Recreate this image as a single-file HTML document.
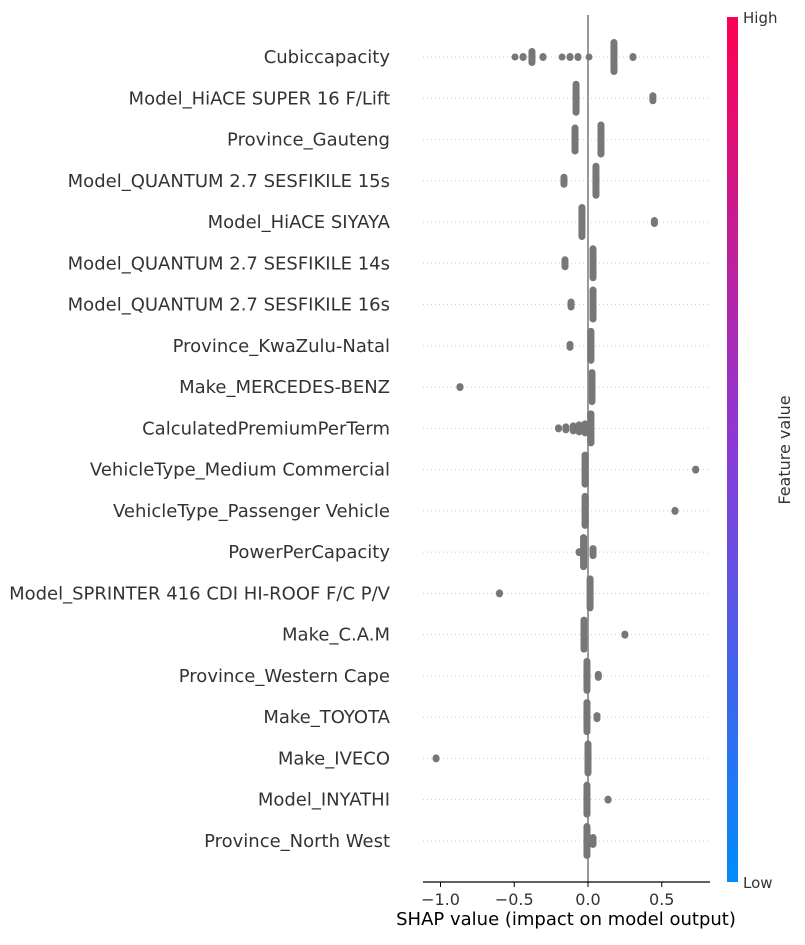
<!DOCTYPE html>
<html><head><meta charset="utf-8"><style>
body{margin:0;background:#fff;}
svg text{font-family:"DejaVu Sans","Liberation Sans",sans-serif;}
</style></head><body>
<svg width="805" height="940" xmlns="http://www.w3.org/2000/svg" id="chart">
<defs><linearGradient id="cb" x1="0" y1="1" x2="0" y2="0">
<stop offset="0" stop-color="#008bfb"/><stop offset="0.5" stop-color="#8a3ad8"/><stop offset="1" stop-color="#ff0052"/></linearGradient></defs>
<g id="grid"></g>
<line x1="588" y1="15" x2="588" y2="882" stroke="#999" stroke-width="2"/>
<g id="marks"></g>
<g id="labels"></g>
<line x1="423" y1="882" x2="710" y2="882" stroke="#000" stroke-width="1.2"/>
<g id="ticks"></g>
<text x="566" y="925" font-size="18" text-anchor="middle" fill="#000">SHAP value (impact on model output)</text>
<rect x="727" y="17" width="11" height="865" fill="url(#cb)"/>
<text x="743" y="23" font-size="15" fill="#333">High</text>
<text x="743" y="888" font-size="15" fill="#333">Low</text>
<text x="790" y="450" font-size="16" fill="#333" text-anchor="middle" transform="rotate(-90 790 450)">Feature value</text>
</svg>
<script>
const features=["Cubiccapacity","Model_HiACE SUPER 16 F/Lift","Province_Gauteng","Model_QUANTUM 2.7 SESFIKILE 15s","Model_HiACE SIYAYA","Model_QUANTUM 2.7 SESFIKILE 14s","Model_QUANTUM 2.7 SESFIKILE 16s","Province_KwaZulu-Natal","Make_MERCEDES-BENZ","CalculatedPremiumPerTerm","VehicleType_Medium Commercial","VehicleType_Passenger Vehicle","PowerPerCapacity","Model_SPRINTER 416 CDI HI-ROOF F/C P/V","Make_C.A.M","Province_Western Cape","Make_TOYOTA","Make_IVECO","Model_INYATHI","Province_North West"];
// clusters per row: [shap value, spread]
const clusters=[
[[-0.495,7],[-0.44,8],[-0.38,18],[-0.305,8],[-0.176,7],[-0.122,8],[-0.068,8],[0.007,7],[0.176,36],[0.305,8]],
[[-0.081,35],[0.44,12]],
[[-0.088,30],[0.088,36]],
[[-0.163,14],[0.054,36]],
[[-0.041,36],[0.45,10]],
[[-0.156,14],[0.034,36]],
[[-0.115,12],[0.034,36]],
[[-0.122,10],[0.02,36]],
[[-0.868,8],[0.027,36]],
[[-0.2,8],[-0.15,10],[-0.1,12],[-0.06,14],[-0.02,16],[0.02,36]],
[[-0.02,36],[0.73,8]],
[[-0.02,36],[0.59,8]],
[[-0.03,36],[0.034,14],[-0.06,8]],
[[-0.6,8],[0.014,36]],
[[-0.027,36],[0.25,8]],
[[-0.007,36],[0.07,10]],
[[-0.007,36],[0.061,10]],
[[-1.03,8],[0.0,36]],
[[-0.007,36],[0.136,8]],
[[-0.007,36],[0.034,14]]];
const tickVals=[-1.0,-0.5,0.0,0.5];
const tickLabels=["\u22121.0","\u22120.5","0.0","0.5"];
const NS="http://www.w3.org/2000/svg";
const xs=v=>588+v*147.5;
const ys=i=>57+i*41.26;
function mk(t,a,p){const e=document.createElementNS(NS,t);for(const k in a)e.setAttribute(k,a[k]);p.appendChild(e);return e;}
const grid=document.getElementById('grid'),marks=document.getElementById('marks'),labels=document.getElementById('labels'),ticks=document.getElementById('ticks');
features.forEach((f,i)=>{
  const y=ys(i);
  const g=mk('line',{x1:423,x2:708,y1:y,y2:y,stroke:'#ccc','stroke-width':1,'stroke-dasharray':'1 3'},grid);
  
  
  const t=mk('text',{x:390,y:y+6,'font-size':18,'text-anchor':'end',fill:'#333'},labels);
  t.textContent=f;
  
  
  clusters[i].forEach(c=>{
    const h=Math.max(7,c[1]);
    const r=mk('rect',{x:xs(c[0])-3.5,y:y-h/2,width:7,height:h,rx:3.5,fill:'#777'},marks);
    
    
  });
});
tickVals.forEach((v,i)=>{
  const x=xs(v);
  const l=mk('line',{x1:x,x2:x,y1:882,y2:887,stroke:'#000'},ticks);
  
  
  const t=mk('text',{x:x,y:905,'font-size':16,'text-anchor':'middle',fill:'#333'},ticks);
  t.textContent=tickLabels[i];
  
  
});
</script>
</body></html>
